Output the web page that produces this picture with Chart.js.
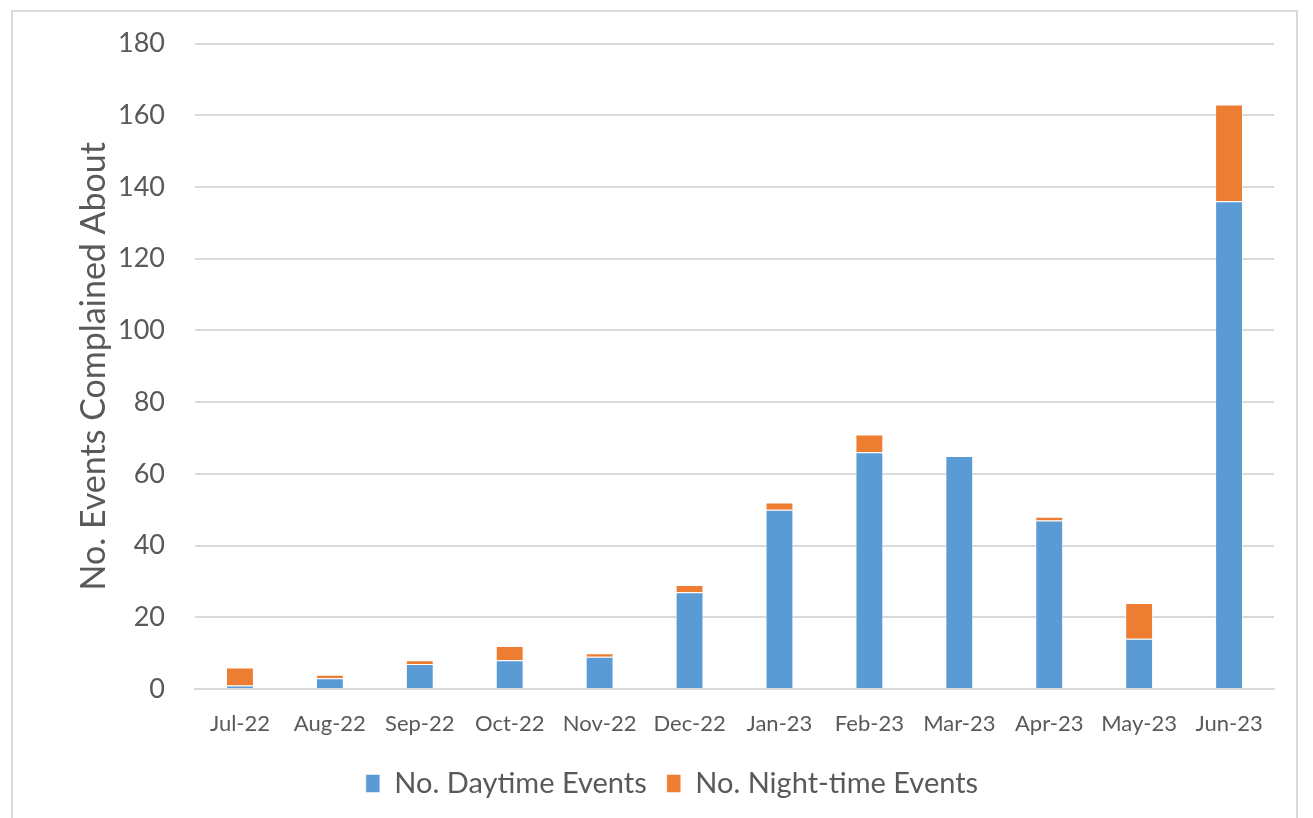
<!DOCTYPE html>
<html lang="en">
<head>
    <meta charset="UTF-8">
    <title>Events Complained About</title>
    <script src="https://cdn.jsdelivr.net/npm/chart.js"></script>
    <style>
        body {
            margin: 0;
            padding: 0;
            background: white;
            overflow: hidden;
        }
        .frame {
            position: absolute;
            left: 11px;
            top: 10px;
            width: 1287px;
            height: 820px;
            border: 2px solid #d9d9d9;
            box-sizing: border-box;
        }
        .chart-container {
            position: absolute;
            left: 0;
            top: 0;
            width: 1313px;
            height: 818px;
        }
    </style>
</head>
<body>
    <div class="frame"></div>
    <div class="chart-container">
        <canvas id="eventsChart"></canvas>
    </div>

    <script>
        const months = ["Jul-22", "Aug-22", "Sep-22", "Oct-22", "Nov-22", "Dec-22",
                        "Jan-23", "Feb-23", "Mar-23", "Apr-23", "May-23", "Jun-23"];
        const daytimeEvents = [1, 3, 7, 8, 9, 27, 50, 66, 65, 47, 14, 136];
        const nightEvents = [5, 1, 1, 4, 1, 2, 2, 5, 0, 1, 10, 27];

        const textColor = "#595959";
        const gridColor = "#d9d9d9";
        const fontFamily = "Lato, 'Open Sans', sans-serif";

        const ctx = document.getElementById("eventsChart").getContext("2d");
        new Chart(ctx, {
            type: "bar",
            data: {
                labels: months,
                datasets: [
                    {
                        label: "No. Daytime Events",
                        data: daytimeEvents,
                        backgroundColor: "#5b9bd5",
                        borderColor: "rgba(255,255,255,0.5)",
                        borderWidth: 1,
                        barPercentage: 0.62,
                        categoryPercentage: 0.5
                    },
                    {
                        label: "No. Night-time Events",
                        data: nightEvents,
                        backgroundColor: "#ed7d31",
                        borderColor: "rgba(255,255,255,0.5)",
                        borderWidth: 1,
                        barPercentage: 0.62,
                        categoryPercentage: 0.5
                    }
                ]
            },
            options: {
                responsive: true,
                maintainAspectRatio: false,
                animation: false,
                layout: {
                    padding: { left: 70, right: 39, top: 30, bottom: 10 }
                },
                plugins: {
                    tooltip: { enabled: false },
                    legend: {
                        position: "bottom",
                        labels: {
                            color: textColor,
                            font: { family: fontFamily, size: 29 },
                            boxWidth: 14,
                            boxHeight: 18,
                            padding: 20
                        }
                    }
                },
                scales: {
                    x: {
                        stacked: true,
                        grid: { display: false, drawTicks: false },
                        border: { color: gridColor, width: 2 },
                        ticks: {
                            color: textColor,
                            font: { family: fontFamily, size: 22 },
                            padding: 22,
                            maxRotation: 0,
                            autoSkip: false
                        },
                        afterFit: scale => { scale.height = 60; }
                    },
                    y: {
                        stacked: true,
                        min: 0,
                        max: 180,
                        grid: { color: gridColor, lineWidth: 2, drawTicks: false },
                        border: { display: false },
                        ticks: {
                            stepSize: 20,
                            color: textColor,
                            font: { family: fontFamily, size: 27, lineHeight: 1 },
                            padding: 30
                        },
                        title: {
                            display: true,
                            text: "No. Events Complained About",
                            color: textColor,
                            font: { family: fontFamily, size: 34 },
                            padding: 4
                        },
                        afterFit: scale => { scale.width = 125; }
                    }
                }
            }
        });
    </script>
</body>
</html>
